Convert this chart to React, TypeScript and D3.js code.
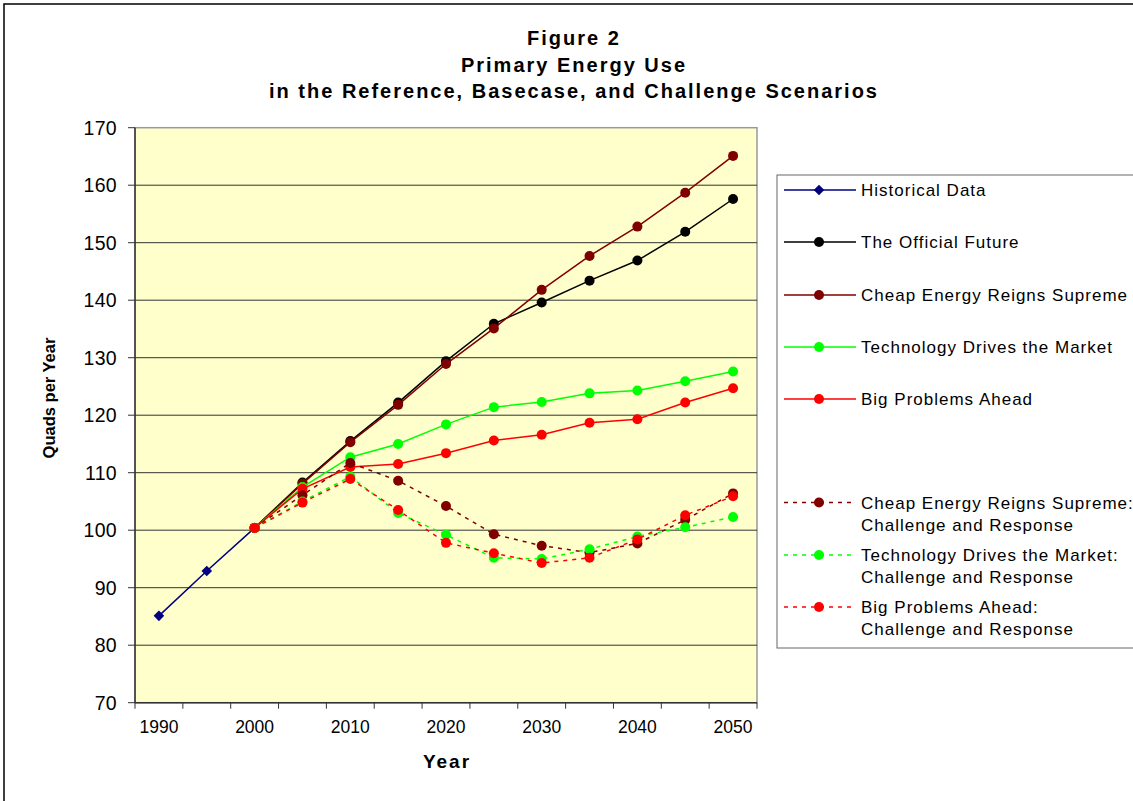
import * as d3 from 'd3'

const years = ['1990', '1995', '2000', '2005', '2010', '2015', '2020', '2025', '2030', '2035', '2040', '2045', '2050']
const labelYears = ['1990', '2000', '2010', '2020', '2030', '2040', '2050']
const yTicks = [70, 80, 90, 100, 110, 120, 130, 140, 150, 160, 170]

const historical = [85.1, 92.9, 100.4]
const officialFuture = [100.4, 108.3, 115.5, 122.2, 129.4, 135.9, 139.6, 143.4, 146.9, 151.9, 157.6]
const cheapEnergy = [100.4, 108.1, 115.3, 121.8, 128.9, 135.1, 141.8, 147.7, 152.8, 158.7, 165.1]
const techDrives = [100.4, 107.5, 112.7, 115.0, 118.4, 121.4, 122.3, 123.8, 124.3, 125.9, 127.6]
const bigProblems = [100.4, 107.2, 111.0, 111.5, 113.4, 115.6, 116.6, 118.7, 119.3, 122.2, 124.7]
const cheapChallenge = [100.4, 106.1, 111.7, 108.6, 104.2, 99.3, 97.3, 96.1, 97.7, 101.8, 106.4]
const techChallenge = [100.4, 105.0, 109.3, 103.0, 99.2, 95.2, 95.0, 96.7, 98.9, 100.5, 102.3]
const bigChallenge = [100.4, 104.8, 108.9, 103.5, 97.8, 96.0, 94.3, 95.2, 98.4, 102.6, 105.9]

type Series = {name: string[], values: number[], start: number, color: string, dashed: boolean, diamond: boolean}

const series: Series[] = [
  {name: ['Historical Data'], values: historical, start: 0, color: '#000080', dashed: false, diamond: true},
  {name: ['The Official Future'], values: officialFuture, start: 2, color: '#000000', dashed: false, diamond: false},
  {name: ['Cheap Energy Reigns Supreme'], values: cheapEnergy, start: 2, color: '#800000', dashed: false, diamond: false},
  {name: ['Technology Drives the Market'], values: techDrives, start: 2, color: '#00ff00', dashed: false, diamond: false},
  {name: ['Big Problems Ahead'], values: bigProblems, start: 2, color: '#ff0000', dashed: false, diamond: false},
  {name: ['Cheap Energy Reigns Supreme:', 'Challenge and Response'], values: cheapChallenge, start: 2, color: '#800000', dashed: true, diamond: false},
  {name: ['Technology Drives the Market:', 'Challenge and Response'], values: techChallenge, start: 2, color: '#00ff00', dashed: true, diamond: false},
  {name: ['Big Problems Ahead:', 'Challenge and Response'], values: bigChallenge, start: 2, color: '#ff0000', dashed: true, diamond: false},
]
const legendY = [190, 242, 295, 347, 399, 502.5, 555, 607]

export default function App() {
  const width = 1133
  const height = 801
  const left = 135, right = 757, top = 127.7, bottom = 702.7
  const font = 'Arial, "Liberation Sans", sans-serif'

  const x = d3.scaleBand(years, [left, right]).padding(0)
  const cx = (yr: string) => (x(yr) ?? 0) + x.bandwidth() / 2
  const y = d3.scaleLinear([70, 170], [bottom, top])

  const line = (s: Series) => d3.line<number>()
    .x((_, i) => cx(years[s.start + i]))
    .y(v => y(v))(s.values)

  const diamond = d3.symbol(d3.symbolSquare, 56)()
  const tickXs = d3.range(years.length + 1).map(i => left + i * x.bandwidth())

  const marker = (s: Series, px: number, py: number, key: string) => s.diamond
    ? <path key={key} d={diamond!} transform={`translate(${px},${py}) rotate(45)`} fill={s.color}/>
    : <circle key={key} cx={px} cy={py} r={5} fill={s.color}/>

  return (
    <svg width={width} height={height} style={{position: 'absolute', left: 0, top: 0, background: '#fff'}} fontFamily={font}>
      <rect x={4} y={4} width={1140} height={810} fill="#fff" stroke="#000" strokeWidth={1.5}/>
      <g fontWeight="bold" fontSize={20} textAnchor="middle" letterSpacing={2}>
        <text x={574} y={45}>Figure 2</text>
        <text x={574} y={72}>Primary Energy Use</text>
        <text x={574} y={98}>in the Reference, Basecase, and Challenge Scenarios</text>
      </g>

      <rect x={left} y={top} width={right - left} height={bottom - top} fill="#ffffcc" stroke="#999" strokeWidth={1.5}/>
      {yTicks.slice(1, -1).map(t => (
        <line key={t} x1={left} x2={right} y1={y(t)} y2={y(t)} stroke="#333" strokeWidth={1}/>
      ))}
      <line x1={left} x2={left} y1={top} y2={bottom} stroke="#333" strokeWidth={1.5}/>
      <line x1={left} x2={right} y1={bottom} y2={bottom} stroke="#333" strokeWidth={1.5}/>
      {yTicks.map(t => (
        <g key={t}>
          <line x1={left - 7} x2={left} y1={y(t)} y2={y(t)} stroke="#333"/>
          <text x={117} y={y(t) + 7} fontSize={19.5} textAnchor="end" letterSpacing={0.3}>{t}</text>
        </g>
      ))}
      {tickXs.map((tx, i) => (
        <line key={i} x1={tx} x2={tx} y1={bottom} y2={bottom + 6} stroke="#333"/>
      ))}
      {labelYears.map(yr => (
        <text key={yr} x={cx(yr)} y={733} fontSize={17.5} textAnchor="middle">{yr}</text>
      ))}
      <text x={447} y={768} fontSize={19} fontWeight="bold" textAnchor="middle" letterSpacing={2}>Year</text>
      <text transform="translate(55,398) rotate(-90)" fontSize={16.5} fontWeight="bold" textAnchor="middle">Quads per Year</text>

      {series.map((s, si) => (
        <g key={si}>
          <path d={line(s)!} fill="none" stroke={s.color} strokeWidth={1.5} strokeDasharray={s.dashed ? '4 5' : undefined}/>
          {s.values.map((v, i) => marker(s, cx(years[s.start + i]), y(v), `${si}-${i}`))}
        </g>
      ))}

      <rect x={777} y={175} width={400} height={473} fill="#fff" stroke="#666" strokeWidth={1}/>
      {series.map((s, si) => (
        <g key={si}>
          <line x1={784} x2={856} y1={legendY[si]} y2={legendY[si]} stroke={s.color} strokeWidth={1.5} strokeDasharray={s.dashed ? '4 5' : undefined}/>
          {marker(s, 819, legendY[si], 'm')}
          {s.name.map((n, ni) => (
            <text key={ni} x={861} y={legendY[si] + 6 + ni * 22} fontSize={17} letterSpacing={1}>{n}</text>
          ))}
        </g>
      ))}
    </svg>
  )
}
